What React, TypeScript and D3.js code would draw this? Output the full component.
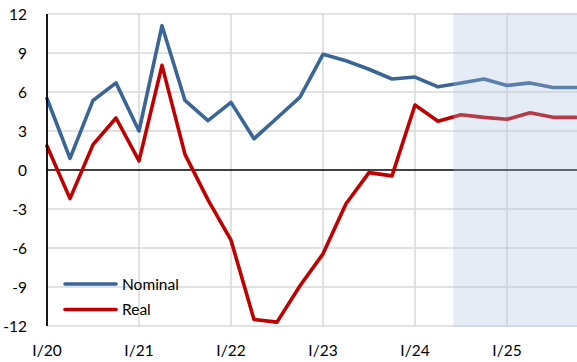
import React from "react";
import * as d3 from "d3";

const quarters: string[] = [
  "I/20","II/20","III/20","IV/20",
  "I/21","II/21","III/21","IV/21",
  "I/22","II/22","III/22","IV/22",
  "I/23","II/23","III/23","IV/23",
  "I/24","II/24","III/24","IV/24",
  "I/25","II/25","III/25","IV/25",
];
const nominal: number[] = [5.5, 0.9, 5.35, 6.7, 3.0, 11.1, 5.35, 3.8, 5.2, 2.4, 4.0, 5.6, 8.9, 8.4, 7.75, 7.0, 7.15, 6.4, 6.7, 7.0, 6.5, 6.7, 6.35, 6.35];
const real: number[] = [1.85, -2.2, 1.95, 4.0, 0.7, 8.05, 1.2, -2.3, -5.4, -11.5, -11.7, -8.9, -6.45, -2.6, -0.2, -0.45, 5.0, 3.75, 4.25, 4.05, 3.9, 4.4, 4.05, 4.05];
const yTicks: number[] = [-12, -9, -6, -3, 0, 3, 6, 9, 12];
const xLabelIdx: number[] = [0, 4, 8, 12, 16, 20];
const forecastStart = 17.67;

const W = 577, H = 362;
const left = 47, right = 576, top = 14, bottom = 326;
const BLUE = "#3A6597";
const RED = "#C00000";
const FONT = "Lato, 'Open Sans', sans-serif";

export default function App() {
  const x = d3.scaleLinear().domain([0, quarters.length - 1]).range([left, right]);
  const y = d3.scaleLinear().domain([-12, 12]).range([bottom, top]);
  const line = d3.line<number>().x((_, i) => x(i)).y((d) => y(d));

  return (
    <svg width={W} height={H} style={{ position: "absolute", left: 0, top: 0, background: "#fff" }}>
      {/* horizontal gridlines */}
      {yTicks.filter((t) => t !== 0).map((t) => (
        <line key={"h" + t} x1={left} x2={W} y1={y(t)} y2={y(t)} stroke="#D9D9D9" strokeWidth={1.5} />
      ))}
      {/* vertical gridlines */}
      {xLabelIdx.filter((i) => i > 0).map((i) => (
        <line key={"v" + i} x1={x(i)} x2={x(i)} y1={top} y2={bottom} stroke="#D9D9D9" strokeWidth={1.5} />
      ))}
      {/* zero line */}
      <line x1={left} x2={W} y1={y(0)} y2={y(0)} stroke="#000" strokeWidth={1.5} />
      {/* series */}
      <path d={line(nominal) || ""} fill="none" stroke={BLUE} strokeWidth={3.6} strokeLinejoin="round" strokeLinecap="round" />
      <path d={line(real) || ""} fill="none" stroke={RED} strokeWidth={3.6} strokeLinejoin="round" strokeLinecap="round" />
      {/* forecast shading overlay */}
      <rect x={x(forecastStart)} y={top - 1} width={W - x(forecastStart)} height={bottom - top + 2} fill="#AABFE0" opacity={0.3} />
      {/* left axis */}
      <line x1={left} x2={left} y1={top} y2={bottom} stroke="#000" strokeWidth={1.8} />
      {/* y tick labels */}
      {yTicks.map((t) => (
        <text key={"yt" + t} x={27} y={y(t)} dy="0.36em" textAnchor="end" fontFamily={FONT} fontSize={15.5} fill="#000">
          {t}
        </text>
      ))}
      {/* x tick labels */}
      {xLabelIdx.map((i) => (
        <text key={"xt" + i} x={x(i)} y={356} textAnchor="middle" fontFamily={FONT} fontSize={15.5} fill="#000">
          {quarters[i]}
        </text>
      ))}
      {/* legend */}
      <line x1={65} x2={116} y1={284} y2={284} stroke={BLUE} strokeWidth={3.6} strokeLinecap="round" />
      <text x={122} y={284} dy="0.36em" fontFamily={FONT} fontSize={15.5} fill="#000">Nominal</text>
      <line x1={65} x2={116} y1={309.5} y2={309.5} stroke={RED} strokeWidth={3.6} strokeLinecap="round" />
      <text x={122} y={309.5} dy="0.36em" fontFamily={FONT} fontSize={15.5} fill="#000">Real</text>
    </svg>
  );
}
